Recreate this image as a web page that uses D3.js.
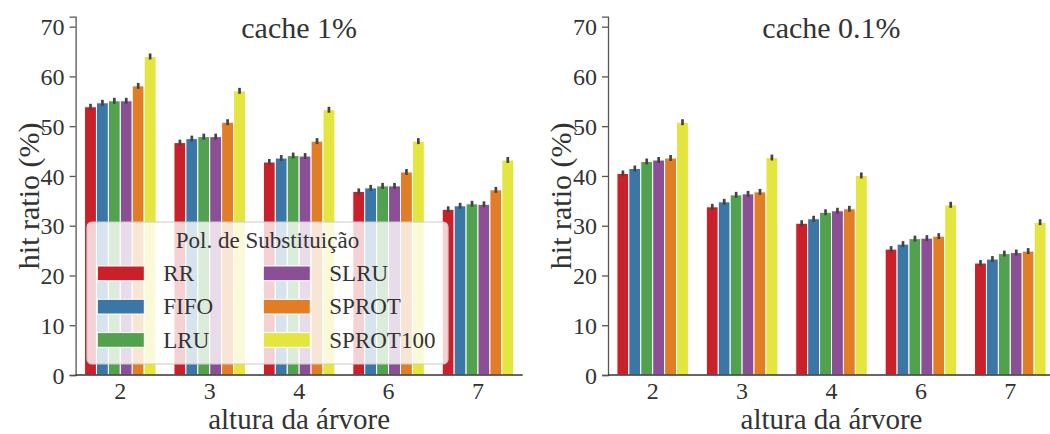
<!DOCTYPE html>
<html>
<head>
<meta charset="utf-8">
<style>
  body { margin: 0; background: #fff; }
  svg text { font-family: "Liberation Serif", "Times New Roman", serif !important; fill: #333; }
</style>
</head>
<body>
<svg id="chart" width="1050" height="434"></svg>
<script src="https://cdn.jsdelivr.net/npm/d3@7"></script>
<script>

// categories (tree height) and policies
const heights = ["2", "3", "4", "6", "7"]
const policies = ["RR", "FIFO", "LRU", "SLRU", "SPROT", "SPROT100"]
const policyColors = ["#c9202a", "#3a76a6", "#52a14e", "#8a4f95", "#e07d25", "#e5e540"]

// hit ratio (%) per policy, one value per tree height -- cache 1%
const cache1 = {
  RR:       [53.9, 46.7, 42.8, 36.9, 33.3],
  FIFO:     [54.7, 47.5, 43.6, 37.6, 34.0],
  LRU:      [55.1, 47.9, 44.1, 38.0, 34.4],
  SLRU:     [55.1, 47.9, 44.0, 38.0, 34.3],
  SPROT:    [58.1, 50.8, 47.0, 40.8, 37.2],
  SPROT100: [64.0, 57.1, 53.3, 47.0, 43.2]
}

// cache 0.1%
const cache01 = {
  RR:       [40.5, 33.8, 30.5, 25.3, 22.5],
  FIFO:     [41.5, 34.8, 31.4, 26.3, 23.3],
  LRU:      [42.9, 36.2, 32.7, 27.4, 24.4],
  SLRU:     [43.2, 36.4, 33.0, 27.5, 24.6],
  SPROT:    [43.6, 36.8, 33.4, 27.9, 24.9],
  SPROT100: [50.8, 43.7, 40.1, 34.2, 30.7]
}

// half-length of the confidence bars
const ciHalf = 0.6

const yTicks = [0, 10, 20, 30, 40, 50, 60, 70]

const serif = '"Liberation Serif", "Times New Roman", serif'

const svg = d3.select("#chart")

const color = d3.scaleOrdinal().domain(policies).range(policyColors)

const y = d3.scaleLinear().domain([0, 72]).range([375, 16.7])

function drawPanel(x0, x1, title, values) {
  const g = svg.append("g")

  const x = d3.scaleBand().domain(heights).range([x0, x1]).paddingInner(0.2).paddingOuter(0.1)
  const xSub = d3.scaleBand().domain(policies).range([0, x.bandwidth()])

  // bars + error bars
  policies.forEach(p => {
    g.selectAll(null)
      .data(values[p])
      .enter().append("rect")
        .attr("x", (d, i) => x(heights[i]) + xSub(p))
        .attr("y", d => y(d))
        .attr("width", xSub.bandwidth())
        .attr("height", d => y(0) - y(d))
        .attr("fill", color(p))
        .attr("stroke", "#fff")
        .attr("stroke-width", 1)

    g.selectAll(null)
      .data(values[p])
      .enter().append("line")
        .attr("x1", (d, i) => x(heights[i]) + xSub(p) + xSub.bandwidth() / 2)
        .attr("x2", (d, i) => x(heights[i]) + xSub(p) + xSub.bandwidth() / 2)
        .attr("y1", d => y(d - ciHalf))
        .attr("y2", d => y(d + ciHalf))
        .attr("stroke", "#444")
        .attr("stroke-width", 2.7)
  })

  // y axis
  const yAxis = g.append("g")
    .attr("transform", `translate(${x0},0)`)
    .call(d3.axisLeft(y).tickValues(yTicks).tickSize(6).tickPadding(5))
  yAxis.attr("font-family", serif)
  yAxis.select(".domain").attr("stroke", "#555").attr("stroke-width", 1.3)
  yAxis.selectAll(".tick line").attr("stroke", "#555").attr("stroke-width", 1.3)
  yAxis.selectAll(".tick text")
    .style("font-size", "24px").attr("fill", "#333")
    .attr("dy", "0.34em")

  // x axis
  const xAxis = g.append("g")
    .attr("transform", `translate(0,${y(0)})`)
    .call(d3.axisBottom(x).tickSize(0).tickPadding(7))
  xAxis.attr("font-family", serif)
  xAxis.select(".domain").attr("stroke", "#333").attr("stroke-width", 1.3)
    .attr("d", `M${x0},0H${x1}`)
  xAxis.selectAll(".tick text")
    .style("font-size", "24px").attr("fill", "#333")

  // title and axis labels
  const cx = (x0 + x1) / 2
  g.append("text")
    .attr("x", cx).attr("y", 38)
    .attr("text-anchor", "middle")
    .style("font-size", "30px")
    .text(title)

  g.append("text")
    .attr("x", cx).attr("y", 429)
    .attr("text-anchor", "middle")
    .style("font-size", "29px")
    .text("altura da árvore")

  g.append("text")
    .attr("transform", `translate(${x0 - 37},${(y(0) + y(72)) / 2}) rotate(-90)`)
    .attr("text-anchor", "middle")
    .style("font-size", "30px")
    .text("hit ratio (%)")

  return g
}

const left = drawPanel(75.6, 522.7, "cache 1%", cache1)
drawPanel(608, 1055, "cache 0.1%", cache01)

// legend inside the left panel
const legend = left.append("g")
legend.append("rect")
  .attr("x", 87).attr("y", 222)
  .attr("width", 361).attr("height", 142)
  .attr("rx", 5)
  .attr("fill", "#fff").attr("fill-opacity", 0.8)
  .attr("stroke", "#ccc").attr("stroke-width", 1.2)

legend.append("text")
  .attr("x", 267.5).attr("y", 248)
  .attr("text-anchor", "middle")
  .style("font-size", "23px")
  .text("Pol. de Substituição")

policies.forEach((p, i) => {
  const col = Math.floor(i / 3), row = i % 3
  const hx = 97.3 + col * 166, hy = 266 + row * 33.3
  legend.append("rect")
    .attr("x", hx).attr("y", hy)
    .attr("width", 47).attr("height", 14.7)
    .attr("fill", color(p))
    .attr("stroke", "#fff").attr("stroke-width", 1)
  legend.append("text")
    .attr("x", hx + 66).attr("y", hy + 15)
    .style("font-size", "23px")
    .text(p)
})

</script>
</body>
</html>
